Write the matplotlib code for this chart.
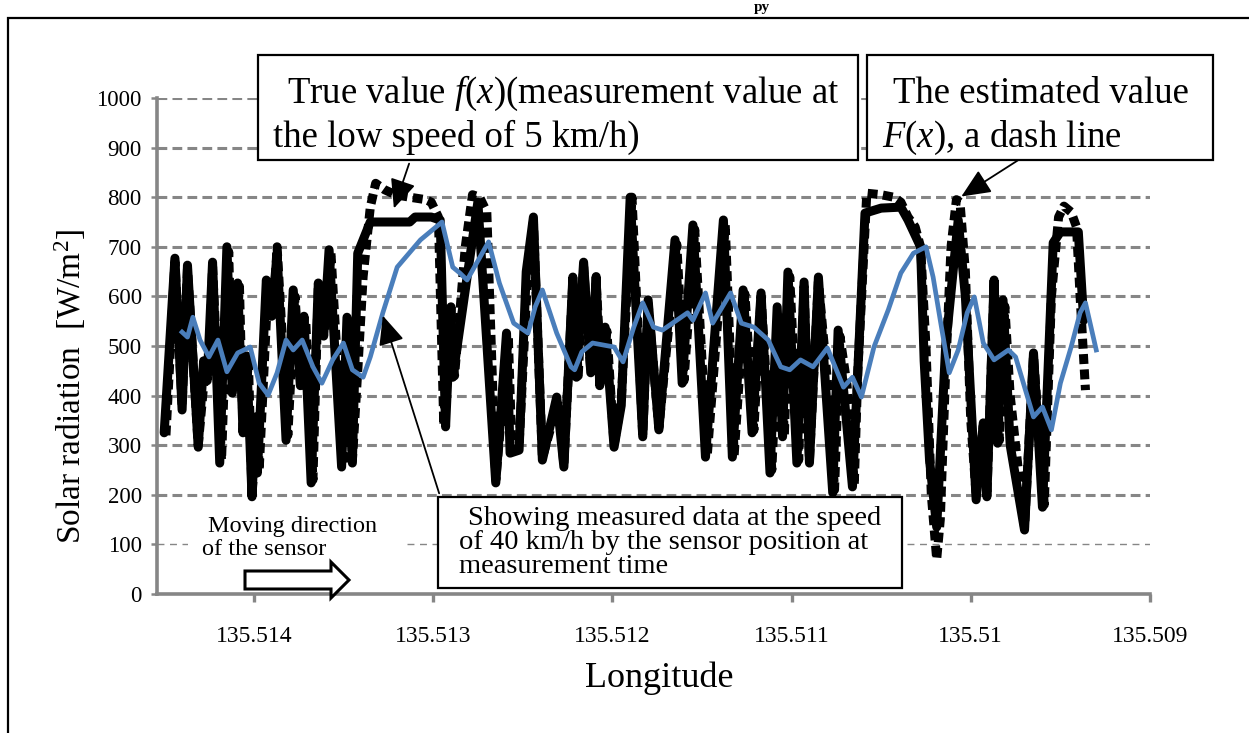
import matplotlib.pyplot as plt
from matplotlib import patches

plt.rcParams['font.family'] = ['Liberation Serif', 'DejaVu Serif']
plt.rcParams['mathtext.fontset'] = 'custom'
plt.rcParams['mathtext.rm'] = 'Liberation Serif'
plt.rcParams['mathtext.it'] = 'Liberation Serif:italic'

# true value f(x): measured at 5 km/h
lon_true = [135.51450, 135.51444, 135.51440, 135.51437, 135.51431, 135.51428, 135.51426, 135.51423, 135.51419, 135.51415,
            135.51412, 135.51409, 135.51406, 135.51404, 135.51401, 135.51399, 135.51398, 135.51393, 135.51390, 135.51387,
            135.51382, 135.51378, 135.51374, 135.51372, 135.51368, 135.51364, 135.51361, 135.51358, 135.51351, 135.51348,
            135.51345, 135.51342, 135.51335, 135.51313, 135.51310, 135.51301, 135.51296, 135.51293, 135.51290, 135.51289,
            135.51275, 135.51265, 135.51259, 135.51257, 135.51252, 135.51248, 135.51244, 135.51239, 135.51231, 135.51227,
            135.51222, 135.51220, 135.51216, 135.51212, 135.51209, 135.51207, 135.51204, 135.51199, 135.51195, 135.51190,
            135.51183, 135.51180, 135.51174, 135.51165, 135.51161,
            135.51155, 135.51148, 135.51138, 135.51133, 135.51127, 135.51122, 135.51117, 135.51112, 135.51108, 135.51105,
            135.51102, 135.51097, 135.51093, 135.51090, 135.51085, 135.51081, 135.51077, 135.51074, 135.51066, 135.51063,
            135.51059, 135.51050, 135.51039, 135.51035, 135.51028, 135.51026, 135.51023, 135.51019, 135.51014, 135.51007,
            135.51003, 135.50997, 135.50993, 135.50991, 135.50987, 135.50985, 135.50982, 135.50978, 135.50970, 135.50965,
            135.50960, 135.50954, 135.50950, 135.50940, 135.50937]
rad_true = [325, 677, 371, 663, 296, 470, 430, 669, 264, 700,
            405, 627, 325, 480, 196, 357, 244, 633, 560, 687,
            310, 613, 420, 560, 224, 627, 520, 694, 256, 558,
            264, 687, 750, 750, 760, 760, 754, 337, 579, 437,
            790, 224, 526, 284, 290, 650, 760, 270, 397, 256,
            639, 437, 669, 446, 640, 420, 538, 296, 380, 800,
            317, 593, 331, 714, 425,
            744, 276, 754, 276, 613, 325, 607, 244, 579, 317,
            649, 264, 629, 264, 639, 420, 204, 532, 216, 451,
            768, 778, 780, 754, 700, 470, 270, 135, 500, 754,
            600, 190, 345, 196, 633, 304, 593, 300, 129, 486,
            175, 708, 730, 730, 552]

# estimated value F(x)
lon_est = [135.51449, 135.51444, 135.51440, 135.51437, 135.51431, 135.51427, 135.51425, 135.51423, 135.51418, 135.51414,
           135.51412, 135.51408, 135.51406, 135.51403, 135.51401, 135.51398, 135.51397, 135.51392, 135.51389, 135.51387,
           135.51381, 135.51377, 135.51374, 135.51371, 135.51367, 135.51364, 135.51360, 135.51357, 135.51350, 135.51347,
           135.51345, 135.51342, 135.51339, 135.51335, 135.51332, 135.51327, 135.51321, 135.51313, 135.51304, 135.51301,
           135.51297, 135.51294, 135.51291, 135.51288, 135.51282, 135.51278, 135.51274, 135.51270, 135.51265, 135.51258,
           135.51256, 135.51252, 135.51247, 135.51244, 135.51239, 135.51230, 135.51227, 135.51222, 135.51219, 135.51216,
           135.51212, 135.51209, 135.51206, 135.51203, 135.51199, 135.51195,
           135.51189, 135.51183, 135.51180, 135.51174, 135.51164, 135.51160, 135.51154, 135.51147, 135.51137,
           135.51132, 135.51126, 135.51121, 135.51117, 135.51111, 135.51107, 135.51104, 135.51101, 135.51096, 135.51093,
           135.51090, 135.51085, 135.51080, 135.51076, 135.51073, 135.51069, 135.51065, 135.51063, 135.51058, 135.51050,
           135.51043, 135.51039, 135.51035, 135.51031, 135.51028, 135.51025, 135.51022, 135.51019, 135.51017, 135.51014,
           135.51011, 135.51008, 135.51006, 135.51003, 135.51000, 135.50997, 135.50993, 135.50991, 135.50987, 135.50984,
           135.50981, 135.50978, 135.50970, 135.50965, 135.50959, 135.50955, 135.50951, 135.50948, 135.50944, 135.50941,
           135.50939, 135.50936]
rad_est = [320, 670, 380, 655, 300, 460, 440, 660, 270, 690,
           410, 620, 330, 470, 200, 350, 250, 625, 570, 700,
           320, 600, 430, 550, 230, 620, 530, 690, 260, 550,
           270, 450, 640, 780, 828, 815, 805, 800, 795, 790,
           760, 340, 570, 440, 700, 805, 800, 770, 230, 520,
           290, 300, 660, 750, 275, 390, 260, 630, 440, 660,
           450, 630, 430, 530, 300, 390,
           800, 320, 585, 335, 705, 430, 735, 280, 745,
           280, 605, 330, 600, 250, 570, 320, 640, 270, 620,
           270, 630, 430, 210, 520, 420, 220, 450, 808, 805,
           800, 790, 760, 740, 700, 500, 200, 70, 150, 450,
           700, 795, 790, 650, 350, 200, 340, 200, 620, 310,
           580, 400, 135, 480, 180, 600, 760, 782, 770, 740,
           600, 411]

# 40 km/h data placed at sensor position
lon_fast = [135.51440, 135.51437, 135.51434, 135.51430, 135.51425, 135.51420, 135.51415, 135.51409, 135.51402, 135.51397,
            135.51392, 135.51387, 135.51382, 135.51378, 135.51373, 135.51367, 135.51362, 135.51356, 135.51350, 135.51345,
            135.51339, 135.51335, 135.51328, 135.51320, 135.51307, 135.51295, 135.51289, 135.51285, 135.51281, 135.51269,
            135.51263, 135.51255, 135.51247, 135.51243, 135.51239, 135.51231, 135.51223, 135.51221, 135.51217, 135.51211,
            135.51199, 135.51194, 135.51188, 135.51183, 135.51177, 135.51172, 135.51164, 135.51158, 135.51155, 135.51148,
            135.51144, 135.51134, 135.51128, 135.51121, 135.51113, 135.51106, 135.51101, 135.51095, 135.51088, 135.51080,
            135.51071, 135.51066, 135.51061, 135.51054, 135.51046, 135.51039, 135.51032, 135.51025, 135.51021, 135.51017,
            135.51012, 135.51007, 135.51002, 135.50998, 135.50993, 135.50987, 135.50979, 135.50975, 135.50965, 135.50960,
            135.50955, 135.50950, 135.50944, 135.50939, 135.50936, 135.50930]
rad_fast = [528, 518, 558, 512, 478, 512, 448, 486, 498, 425,
            401, 446, 512, 492, 512, 458, 425, 472, 506, 452,
            437, 478, 567, 659, 714, 750, 659, 647, 633, 710,
            627, 546, 526, 579, 613, 526, 458, 452, 488, 506,
            498, 468, 538, 587, 538, 532, 552, 567, 552, 607,
            546, 607, 546, 538, 512, 458, 452, 472, 458, 496,
            417, 437, 397, 498, 573, 647, 687, 700, 639, 552,
            446, 492, 567, 599, 506, 472, 492, 478, 357, 377,
            331, 425, 498, 567, 587, 492]

y_ticks = list(range(0, 1001, 100))
x_ticks = [135.514, 135.513, 135.512, 135.511, 135.510, 135.509]
x_tick_labels = ['135.514', '135.513', '135.512', '135.511', '135.51', '135.509']

W, H = 1249, 733
GRAY = '#868686'


def fx(px):
    return px / W


def fy(py):
    return 1 - py / H


fig = plt.figure(figsize=(W / 100, H / 100), dpi=100)
ax = fig.add_axes([fx(157), fy(594), (1150 - 157) / W, (594 - 98) / H])

for v in y_ticks[1:]:
    if v == 100:
        ax.axhline(v, color=GRAY, lw=1.0, ls=(0, (5, 4)), zorder=0.5)
    else:
        ax.axhline(v, color=GRAY, lw=2.2, ls=(0, (3.2, 1.7)), zorder=0.5)

ax.plot(lon_true, rad_true, color='black', lw=6.5, solid_joinstyle='round',
        solid_capstyle='round', zorder=2)
ax.plot(lon_est, rad_est, color='black', lw=6.5, ls=(0, (1.1, 0.6)),
        dash_capstyle='butt', dash_joinstyle='round', zorder=3)
ax.plot(lon_fast, rad_fast, color='#4a7ebb', lw=3.4, solid_joinstyle='round', zorder=4)

ax.set_xlim(135.51454, 135.509)
ax.set_ylim(0, 1000)
ax.set_xticks(x_ticks)
ax.set_xticklabels(x_tick_labels)
ax.set_yticks(y_ticks)
for s in ['top', 'right']:
    ax.spines[s].set_visible(False)
for s in ['left', 'bottom']:
    ax.spines[s].set_color(GRAY)
    ax.spines[s].set_linewidth(2.6)
ax.tick_params(axis='y', length=4, width=1.8, color=GRAY, pad=7, labelsize=16.5)
ax.tick_params(axis='x', length=6, width=2.4, color=GRAY, pad=17, labelsize=17)

fig.text(fx(659), fy(678), 'Longitude', fontsize=26, ha='center', va='center')
fig.text(fx(70), fy(386), 'Solar radiation  [W/m$^2$]', fontsize=24,
         rotation=90, ha='center', va='center')

# title remnant and outer frame
fig.text(fx(762), fy(1), 'py', fontsize=11, weight='bold', ha='center', va='top')
fig.add_artist(patches.Rectangle((fx(8), fy(740)), (1260 - 8) / W, (740 - 18) / H,
                                 transform=fig.transFigure, fill=False, ec='black', lw=1.6))


def box(x0, y0, x1, y1):
    fig.add_artist(patches.Rectangle((fx(x0), fy(y1)), (x1 - x0) / W, (y1 - y0) / H,
                                     transform=fig.transFigure, fc='white', ec='black',
                                     lw=1.6, zorder=5))


def arrow(x0, y0, x1, y1):
    fig.add_artist(patches.FancyArrowPatch((fx(x0), fy(y0)), (fx(x1), fy(y1)),
                                           transform=fig.transFigure,
                                           arrowstyle='-|>,head_length=0.9,head_width=0.4',
                                           mutation_scale=20, lw=1.3, color='black', zorder=6))


box(258, 55, 858, 160)
fig.text(fx(287), fy(103), 'True value $f$($x$)(measurement value at', fontsize=26.5, zorder=7)
fig.text(fx(273), fy(147), 'the low speed of 5 km/h)', fontsize=26.5, zorder=7)
arrow(410, 161, 393, 211)

box(867, 55, 1213, 160)
fig.text(fx(893), fy(103), 'The estimated value', fontsize=26.5, zorder=7)
fig.text(fx(882), fy(147), '$F$($x$), a dash line', fontsize=26.5, zorder=7)
arrow(1020, 159, 959, 198)

box(438, 497, 902, 588)
fig.text(fx(468), fy(525), 'Showing measured data at the speed', fontsize=20.5, zorder=7)
fig.text(fx(459), fy(549), 'of 40 km/h by the sensor position at', fontsize=20.5, zorder=7)
fig.text(fx(459), fy(573), 'measurement time', fontsize=20.5, zorder=7)
arrow(440, 496, 382, 313)

# moving direction note
fig.add_artist(patches.Rectangle((fx(188), fy(560)), (404 - 188) / W, (560 - 508) / H,
                                 transform=fig.transFigure, fc='white', ec='none', zorder=4))
fig.text(fx(208), fy(532), 'Moving direction', fontsize=17.5, zorder=7)
fig.text(fx(202), fy(555), 'of the sensor', fontsize=17.5, zorder=7)
pts = [(245, 571), (331, 571), (331, 562), (349, 580), (331, 598), (331, 589), (245, 589)]
fig.add_artist(patches.Polygon([(fx(a), fy(b)) for a, b in pts], closed=True,
                               transform=fig.transFigure, fc='white', ec='black',
                               lw=2.2, joinstyle='miter', zorder=6))

fig.savefig('out.png', dpi=100)
